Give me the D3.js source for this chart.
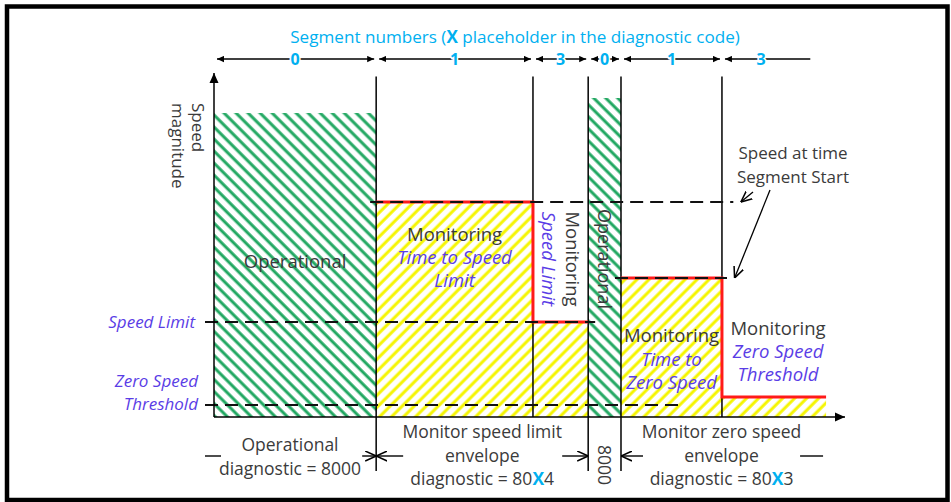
<!DOCTYPE html>
<html>
<head>
<meta charset="utf-8">
<script src="https://cdn.jsdelivr.net/npm/d3@7"></script>
<style>
  body { margin: 0; background: #fff; }
  svg { display: block; font-family: "Open Sans", sans-serif; }
</style>
</head>
<body>
<svg id="chart" width="951" height="502"></svg>
<script>
// time runs 0-100 along the x axis, speed 0-100 up the y axis
const segmentStarts = [0, 25.7, 50.55, 59.3, 64.5, 80.5]
const segmentNumbers = ['0', '1', '3', '0', '1', '3']
const segmentEnd = 94.5
const envelopeEnd = 97
const speedLimit = 27.6
const zeroSpeedThreshold = 3.5
const zeroSpeedEnvelope = 5.8
const startSpeeds = [62.5, 40.4]
const operationalTops = [88.4, 92.7]
const diagnosticBounds = [1, 3, 4]
const diagnosticTexts = [
  ['Operational', 'diagnostic = 8000'],
  ['Monitor speed limit', 'envelope', 'diagnostic = 80X4'],
  ['8000'],
  ['Monitor zero speed', 'envelope', 'diagnostic = 80X3']
]

const DARK = '#3b3b3b'
const PURPLE = '#5a3de6'
const CYAN = '#00b0f0'

const svg = d3.select('#chart')
const x = d3.scaleLinear().domain([0, 100]).range([214, 845])
const y = d3.scaleLinear().domain([0, 100]).range([417, 73])

const defs = svg.append('defs')

// 빗금 패턴
function hatch(id, color, angle) {
  const p = defs.append('pattern')
    .attr('id', id)
    .attr('patternUnits', 'userSpaceOnUse')
    .attr('width', 8.5).attr('height', 8.5)
    .attr('patternTransform', `rotate(${angle})`)
  p.append('rect').attr('width', 8.5).attr('height', 8.5).attr('fill', '#fff')
  p.append('line')
    .attr('x1', 2).attr('x2', 2).attr('y1', -1).attr('y2', 9.5)
    .attr('stroke', color).attr('stroke-width', 3)
}
hatch('hatch-green', '#22a862', -45)
hatch('hatch-yellow', '#f5f500', 45)

function marker(id, size, filled) {
  const m = defs.append('marker')
    .attr('id', id)
    .attr('viewBox', '0 0 10 10')
    .attr('refX', 10).attr('refY', 5)
    .attr('markerUnits', 'userSpaceOnUse')
    .attr('markerWidth', size).attr('markerHeight', size)
    .attr('orient', 'auto-start-reverse')
  if (filled) {
    m.append('path').attr('d', 'M0,0.5L10,5L0,9.5Z').attr('fill', '#000')
  } else {
    m.append('path').attr('d', 'M0,0.5L10,5L0,9.5').attr('fill', 'none')
      .attr('stroke', '#000').attr('stroke-width', 1.4)
  }
}
marker('arrow-axis', 10, true)
marker('arrow-seg', 7, true)
marker('arrow-open', 11, false)

// frame
svg.append('rect')
  .attr('x', 7).attr('y', 6.5).attr('width', 940.5).attr('height', 493.5)
  .attr('fill', 'none').attr('stroke', '#000').attr('stroke-width', 4.5)

const step = d3.line().x(d => x(d[0])).y(d => y(d[1])).curve(d3.curveStepAfter)
const stepArea = d3.area().x(d => x(d[0])).y0(y(0)).y1(d => y(d[1])).curve(d3.curveStepAfter)

// operational (green) areas
const operationalSpans = [[segmentStarts[0], segmentStarts[1]], [segmentStarts[3], segmentStarts[4]]]
operationalSpans.forEach((s, i) => {
  svg.append('path')
    .attr('d', stepArea([[s[0], operationalTops[i]], [s[1], operationalTops[i]]]))
    .attr('fill', 'url(#hatch-green)')
})

// monitoring envelopes (yellow + red)
const envelopes = [
  [[segmentStarts[1], startSpeeds[0]], [segmentStarts[2], speedLimit], [segmentStarts[3], speedLimit]],
  [[segmentStarts[4], startSpeeds[1]], [segmentStarts[5], zeroSpeedEnvelope], [envelopeEnd, zeroSpeedEnvelope]]
]
envelopes.forEach(e => {
  svg.append('path').attr('d', stepArea(e)).attr('fill', 'url(#hatch-yellow)')
})

// segment boundary lines
const topY = y(99)
segmentStarts.slice(1).forEach((t, i) => {
  const idx = i + 1
  svg.append('line')
    .attr('x1', x(t)).attr('x2', x(t))
    .attr('y1', topY).attr('y2', diagnosticBounds.includes(idx) ? 471 : y(0))
    .attr('stroke', '#000').attr('stroke-width', 1.5)
})

envelopes.forEach(e => {
  svg.append('path').attr('d', step(e))
    .attr('fill', 'none').attr('stroke', '#ff1a1a').attr('stroke-width', 3)
})

// dashed reference lines
const dashed = [
  [x(0) - 9, x(segmentStarts[3]) + 7, speedLimit],
  [x(0) - 9, x(74.3), zeroSpeedThreshold],
  [x(segmentStarts[1]) - 6, x(82.3), startSpeeds[0]],
  [x(segmentStarts[4]) - 6, x(81.3), startSpeeds[1]]
]
dashed.forEach(d => {
  svg.append('line')
    .attr('x1', d[0]).attr('x2', d[1]).attr('y1', y(d[2])).attr('y2', y(d[2]))
    .attr('stroke', '#111').attr('stroke-width', 2).attr('stroke-dasharray', '13,7')
})

// axes
svg.append('line')
  .attr('x1', x(0)).attr('x2', x(0)).attr('y1', y(0)).attr('y2', y(100))
  .attr('stroke', '#000').attr('stroke-width', 1.5).attr('marker-end', 'url(#arrow-axis)')
svg.append('line')
  .attr('x1', x(0)).attr('x2', x(100)).attr('y1', y(0)).attr('y2', y(0))
  .attr('stroke', '#000').attr('stroke-width', 1.5).attr('marker-end', 'url(#arrow-axis)')

// y axis title
const yTitle = svg.append('text')
  .attr('transform', `translate(${x(0) - 16},103) rotate(90)`)
  .attr('font-size', 17).attr('fill', DARK)
yTitle.append('tspan').attr('x', 0).attr('y', 0).attr('dy', '0.35em').text('Speed')
yTitle.append('tspan').attr('x', 0).attr('y', 20).attr('dy', '0.35em').text('magnitude')

// left reference labels
function lines(g, arr, lh) {
  arr.forEach((l, i) => {
    g.append('tspan').attr('x', 0).attr('y', i * lh).attr('dy', '0.35em')
      .attr('fill', l.c || DARK).attr('font-style', l.c ? 'italic' : null).text(l.t)
  })
}
const left = svg.append('g').attr('font-size', 17).attr('text-anchor', 'end')
left.append('text').attr('transform', `translate(195,${y(speedLimit)})`)
  .call(g => lines(g, [{ t: 'Speed Limit', c: PURPLE }], 0))
left.append('text').attr('transform', `translate(198,${y(zeroSpeedThreshold) - 24})`)
  .call(g => lines(g, [{ t: 'Zero Speed', c: PURPLE }, { t: 'Threshold', c: PURPLE }], 23))

// region labels
const mid = (a, b) => (x(a) + x(b)) / 2
const labels = svg.append('g').attr('font-size', 18.5).attr('text-anchor', 'middle')
labels.append('text').attr('transform', `translate(${mid(segmentStarts[0], segmentStarts[1])},262)`)
  .call(g => lines(g, [{ t: 'Operational' }], 0))
labels.append('text').attr('transform', `translate(${mid(segmentStarts[1], segmentStarts[2])},235)`)
  .call(g => lines(g, [{ t: 'Monitoring' }, { t: 'Time to Speed', c: PURPLE }, { t: 'Limit', c: PURPLE }], 23))
labels.append('text').attr('transform', `translate(${mid(segmentStarts[2], segmentStarts[3]) + 12},259) rotate(90)`)
  .call(g => lines(g, [{ t: 'Monitoring' }, { t: 'Speed Limit', c: PURPLE }], 24))
labels.append('text').attr('transform', `translate(${mid(segmentStarts[3], segmentStarts[4])},259) rotate(90)`)
  .attr('font-size', 18)
  .call(g => lines(g, [{ t: 'Operational' }], 0))
labels.append('text').attr('transform', `translate(${mid(segmentStarts[4], segmentStarts[5])},336)`)
  .call(g => lines(g, [{ t: 'Monitoring' }, { t: 'Time to', c: PURPLE }, { t: 'Zero Speed', c: PURPLE }], 23.5))
labels.append('text').attr('transform', `translate(${mid(segmentStarts[5], envelopeEnd) + 4},329)`)
  .call(g => lines(g, [{ t: 'Monitoring' }, { t: 'Zero Speed', c: PURPLE }, { t: 'Threshold', c: PURPLE }], 23))

// speed at segment start annotation
svg.append('text').attr('transform', 'translate(793,153)')
  .attr('font-size', 17).attr('text-anchor', 'middle')
  .call(g => lines(g, [{ t: 'Speed at time' }, { t: 'Segment Start' }], 24))
const pointers = [
  [[753, 192], [x(83.5), y(startSpeeds[0])]],
  [[770, 190], [x(82.5), y(startSpeeds[1])]]
]
pointers.forEach(p => {
  svg.append('line')
    .attr('x1', p[0][0]).attr('y1', p[0][1]).attr('x2', p[1][0]).attr('y2', p[1][1])
    .attr('stroke', '#000').attr('stroke-width', 1.3).attr('marker-end', 'url(#arrow-open)')
})

// segment numbers across the top
const segY = 59
const ends = segmentStarts.slice(1).concat([segmentEnd])
segmentStarts.forEach((t, i) => {
  const last = i === segmentStarts.length - 1
  const x0 = x(t) + 3
  const x1 = last ? x(ends[i]) : x(ends[i]) - 2
  svg.append('line')
    .attr('x1', x0).attr('x2', x1).attr('y1', segY).attr('y2', segY)
    .attr('stroke', '#000').attr('stroke-width', 1.4)
    .attr('marker-start', 'url(#arrow-seg)')
    .attr('marker-end', last ? null : 'url(#arrow-seg)')
  svg.append('text')
    .attr('x', (x(t) + x(ends[i])) / 2 - (last ? 5 : 0)).attr('y', segY).attr('dy', '0.35em')
    .attr('text-anchor', 'middle').attr('font-size', 16).attr('font-weight', 700)
    .attr('fill', CYAN).attr('stroke', '#fff').attr('stroke-width', 3)
    .attr('paint-order', 'stroke')
    .text(segmentNumbers[i])
})

const title = svg.append('text')
  .attr('x', 515).attr('y', 37).attr('dy', '0.35em')
  .attr('text-anchor', 'middle').attr('font-size', 17.1).attr('fill', CYAN)
title.append('tspan').text('Segment numbers (')
title.append('tspan').attr('font-weight', 700).text('X')
title.append('tspan').text(' placeholder in the diagnostic code)')

// diagnostic dimension lines at the bottom
const dimY = 456
const dims = [
  [x(0) - 9, x(0) + 7, false],
  [x(segmentStarts[1]) - 14, x(segmentStarts[1]), true],
  [x(segmentStarts[1]) + 27, x(segmentStarts[1]), true],
  [x(segmentStarts[3]) - 26, x(segmentStarts[3]), true],
  [x(segmentStarts[4]) + 22, x(segmentStarts[4]), true],
  [x(envelopeEnd) - 26, x(envelopeEnd) - 3, false]
]
dims.forEach(d => {
  svg.append('line')
    .attr('x1', d[0]).attr('x2', d[1]).attr('y1', dimY).attr('y2', dimY)
    .attr('stroke', '#000').attr('stroke-width', 1.4)
    .attr('marker-end', d[2] ? 'url(#arrow-open)' : null)
})

function diagText(g, arr, lh) {
  arr.forEach((l, i) => {
    const tx = g.append('tspan').attr('x', 0).attr('y', i * lh).attr('dy', '0.35em')
    const parts = l.split('X')
    parts.forEach((p, j) => {
      if (j > 0) tx.append('tspan').attr('fill', CYAN).attr('font-weight', 700).text('X')
      tx.append('tspan').text(p)
    })
  })
}
const bottom = svg.append('g').attr('font-size', 17.5).attr('fill', DARK).attr('text-anchor', 'middle')
bottom.append('text').attr('transform', 'translate(290,445)')
  .call(g => diagText(g, diagnosticTexts[0], 24))
bottom.append('text').attr('transform', `translate(${mid(segmentStarts[1], segmentStarts[3])},432)`)
  .call(g => diagText(g, diagnosticTexts[1], 23.5))
bottom.append('text').attr('transform', `translate(${mid(segmentStarts[3], segmentStarts[4])},465) rotate(90)`)
  .call(g => diagText(g, diagnosticTexts[2], 0))
bottom.append('text').attr('transform', `translate(${mid(segmentStarts[4], envelopeEnd) - 2},432)`)
  .call(g => diagText(g, diagnosticTexts[3], 23.5))
</script>
</body>
</html>
